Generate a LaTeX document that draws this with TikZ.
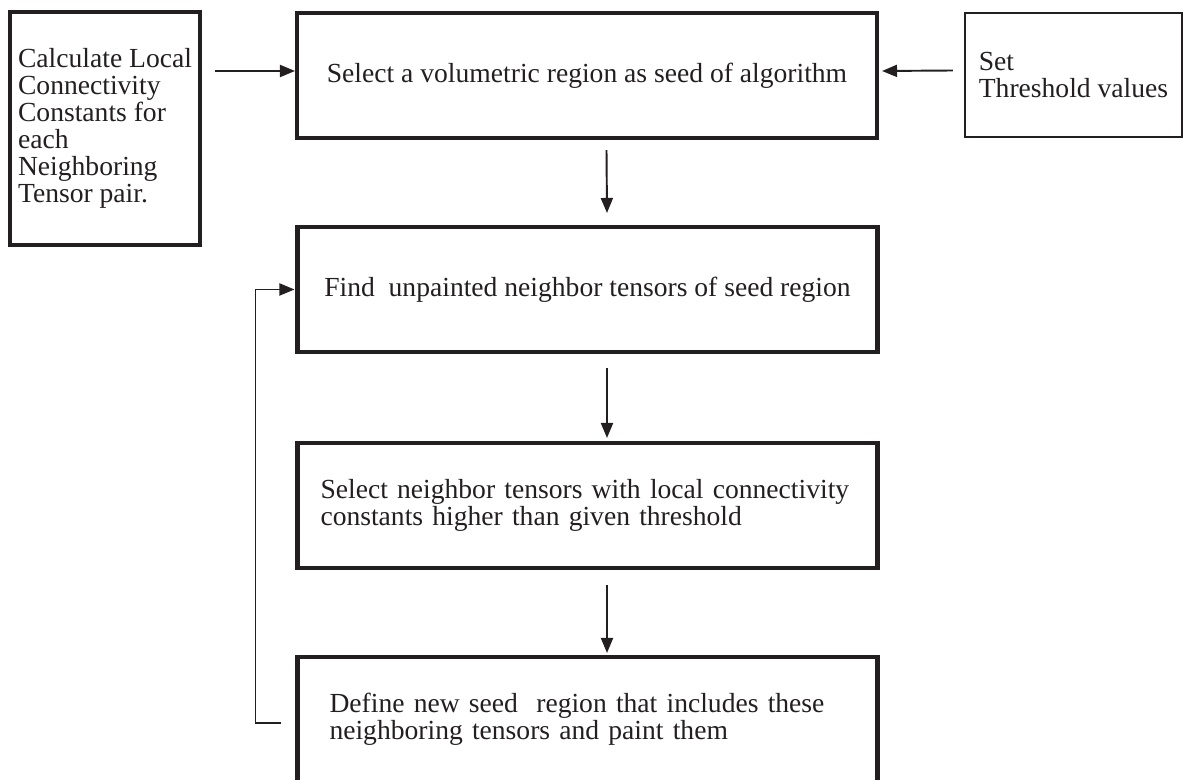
\documentclass[tikz,border=0pt]{standalone}
\usepackage{fontspec}
\setmainfont{Liberation Serif}
\usetikzlibrary{arrows.meta,calc}
\definecolor{ink}{HTML}{231F20}
\tikzset{
  stepbox/.style={draw=ink, text=ink, line width=2.3pt, align=left, inner sep=0pt, minimum width=11.6cm, minimum height=2.5cm},
  flow/.style={draw=ink, line width=1.1pt, -{Triangle[length=0.3cm,width=0.24cm]}}
}
\begin{document}
\begin{tikzpicture}[font=\fontsize{15.7}{15.4}\selectfont]
      \useasboundingbox (0,0) rectangle (23.66,-15.6);
      \path
        (2.1,-2.57) node[stepbox, minimum width=3.8cm, minimum height=4.66cm] (calc)
          {Calculate Local\\Connectivity\\Constants for\\each\\Neighboring\\Tensor pair.}
        (11.74,-1.51) node[stepbox] (sel)
          {Select a volumetric region as seed of algorithm}
        (21.47,-1.5) node[stepbox, line width=1.3pt, minimum width=4.34cm, minimum height=2.48cm] (thr)
          {Set\\Threshold values}
        (11.75,-5.79) node[stepbox] (find)
          {Find\ \ unpainted neighbor tensors of seed region}
        (11.75,-10.11) node[stepbox, text width=10.68cm] (pick)
          {Select neighbor tensors with local connectivity\\constants higher than given threshold}
        (11.75,-14.39) node[stepbox, text width=10.32cm] (grow)
          {Define new seed\ \ region that includes these\\neighboring tensors and paint them};
      \begin{scope}[flow]
        \draw ($(calc.east |- sel.west)+(0.26,0.09)$) to ([yshift=0.09cm]sel.west);
        \draw ([xshift=-0.22cm,yshift=0.09cm]thr.west) to ([xshift=0.06cm,yshift=0.09cm]sel.east);
        \draw ([xshift=0.39cm,yshift=-0.2cm]sel.south) to ([xshift=0.39cm,yshift=0.24cm]find.north);
        \draw ([xshift=0.39cm,yshift=-0.28cm]find.south) to ([xshift=0.39cm,yshift=0.06cm]pick.north);
        \draw ([xshift=0.39cm,yshift=-0.3cm]pick.south) to ([xshift=0.39cm,yshift=0.04cm]grow.north);
        \draw ([xshift=-0.28cm,yshift=-0.07cm]grow.west) -- ++(-0.52,0) |- ([xshift=-0.02cm]find.west);
      \end{scope}
    \end{tikzpicture}
\end{document}
